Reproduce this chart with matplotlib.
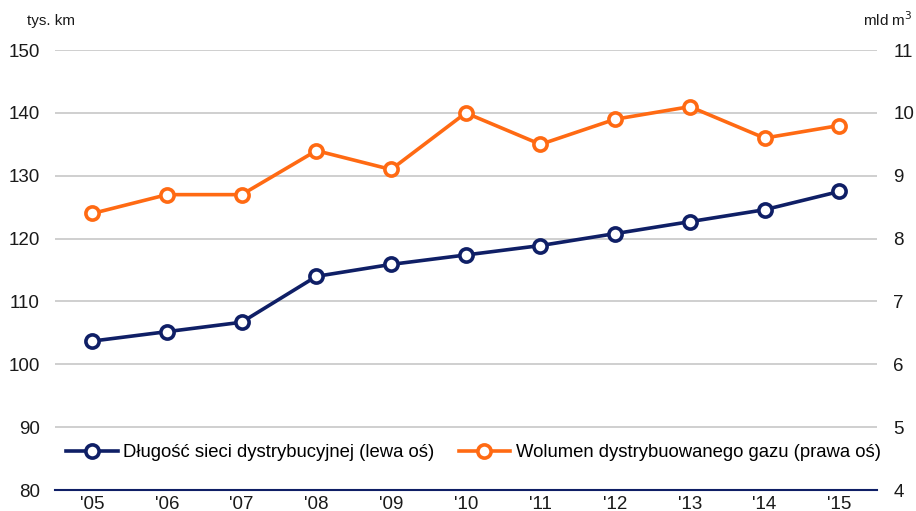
import matplotlib
matplotlib.use("Agg")
import matplotlib.pyplot as plt

plt.rcParams['font.family'] = ['Liberation Sans', 'DejaVu Sans']

years = ["'05", "'06", "'07", "'08", "'09", "'10", "'11", "'12", "'13", "'14", "'15"]
network_length = [103.7, 105.2, 106.7, 114.0, 115.9, 117.4, 118.9, 120.8, 122.7, 124.6, 127.5]
gas_volume = [8.4, 8.7, 8.7, 9.4, 9.1, 10.0, 9.5, 9.9, 10.1, 9.6, 9.8]
left_ticks = [80, 90, 100, 110, 120, 130, 140, 150]
right_ticks = [4, 5, 6, 7, 8, 9, 10, 11]
label_len = "Długość sieci dystrybucyjnej (lewa oś)"
label_vol = "Wolumen dystrybuowanego gazu (prawa oś)"

navy = "#0f1f66"
orange = "#ff6a13"

fig = plt.figure(figsize=(9.16, 5.11), dpi=100)
ax = fig.add_axes([0.060, 0.041, 0.897, 0.861])
ax2 = ax.twinx()

x = list(range(len(years)))
l1, = ax.plot(x, network_length, color=navy, lw=2.6, marker='o', ms=9.5,
              mfc='white', mec=navy, mew=2.6, zorder=5, label=label_len)
l2, = ax2.plot(x, gas_volume, color=orange, lw=2.6, marker='o', ms=9.5,
               mfc='white', mec=orange, mew=2.6, zorder=5, label=label_vol)

ax.set_xlim(-0.5, 10.5)
ax.set_ylim(80, 150)
ax2.set_ylim(4, 11)
ax.set_yticks(left_ticks)
ax2.set_yticks(right_ticks)
ax.set_xticks(x)
ax.set_xticklabels(years)

for a in (ax, ax2):
    for s in a.spines.values():
        s.set_visible(False)
    a.tick_params(length=0, labelsize=13.5, colors='#1a1a1a')
ax.spines['bottom'].set_visible(True)
ax.spines['bottom'].set_color(navy)
ax.spines['bottom'].set_linewidth(1.5)
ax.tick_params(axis='y', pad=11)
ax2.tick_params(axis='y', pad=12)
ax.tick_params(axis='x', pad=4)

ax.grid(axis='y', color='#cccccc', lw=1.3)
ax.set_axisbelow(True)

fig.text(0.030, 0.958, "tys. km", fontsize=11, ha='left', va='center', color='#1a1a1a')
fig.text(0.996, 0.962, "mld m$^3$", fontsize=11, ha='right', va='center', color='#1a1a1a')

leg = ax.legend(handles=[l1, l2], loc='lower left', bbox_to_anchor=(0.0, 0.04),
                ncol=2, frameon=False, fontsize=13.3, handlelength=2.8,
                handletextpad=0.3, columnspacing=1.3, borderaxespad=0.2)

fig.savefig("out.png", dpi=100)
